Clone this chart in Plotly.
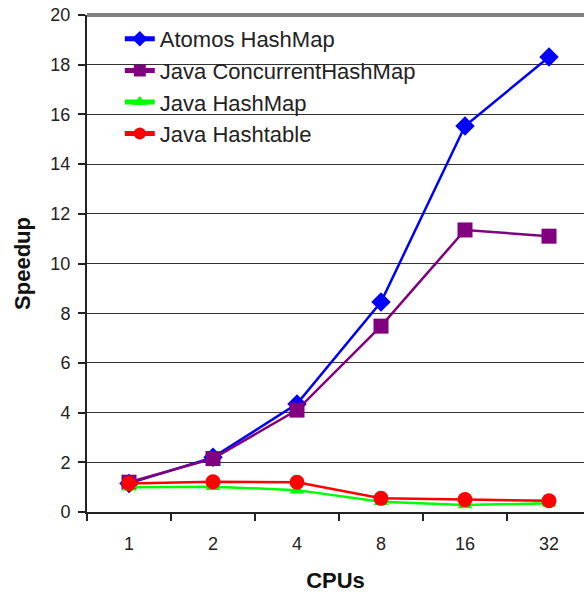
import plotly.graph_objects as go

cpus = ["1", "2", "4", "8", "16", "32"]
atomos = [1.15, 2.2, 4.35, 8.45, 15.53, 18.31]
concurrent = [1.2, 2.15, 4.1, 7.48, 11.35, 11.1]
hashmap = [1.0, 1.02, 0.88, 0.41, 0.28, 0.35]
hashtable = [1.15, 1.22, 1.2, 0.55, 0.5, 0.45]

series = [
    ("Atomos HashMap", atomos, "#0000FF", "diamond", 15),
    ("Java ConcurrentHashMap", concurrent, "#800080", "square", 15),
    ("Java HashMap", hashmap, "#00FF00", "triangle-up", 13),
    ("Java Hashtable", hashtable, "#FF0000", "circle", 15),
]

fig = go.Figure()
for name, vals, color, sym, size in series:
    fig.add_trace(go.Scatter(
        x=cpus, y=vals, name=name, mode="lines+markers",
        line=dict(color=color, width=2.5),
        marker=dict(symbol=sym, size=size, color=color),
    ))

font = "Liberation Sans, Arial, sans-serif"
fig.update_layout(
    width=584, height=595,
    margin=dict(l=87, r=0, t=15, b=83),
    paper_bgcolor="white", plot_bgcolor="white",
    font=dict(family=font, size=18, color="#222"),
    showlegend=True,
    legend=dict(x=0.066, y=0.994, xanchor="left", yanchor="top",
                bgcolor="rgba(255,255,255,0)", font=dict(size=22, color="#222"),
                tracegroupgap=0, itemsizing="constant"),
    xaxis=dict(
        type="category", range=[-0.5, 5.4167],
        showline=True, linecolor="#222", linewidth=2,
        ticks="outside", tickson="boundaries", ticklen=7, tickwidth=1.5, tickcolor="#222",
        showgrid=False, ticklabelstandoff=14,
        title=dict(text="<b>CPUs</b>", font=dict(size=22, color="#111"), standoff=20),
    ),
    yaxis=dict(
        range=[0, 20], dtick=2,
        showline=True, linecolor="#222", linewidth=2,
        ticks="outside", ticklen=7, tickwidth=1.5, tickcolor="#222",
        showgrid=True, gridcolor="#333", gridwidth=1.2, zeroline=False,
        ticklabelstandoff=4,
        title=dict(text="<b>Speedup</b>", font=dict(size=22, color="#111"), standoff=14),
    ),
    shapes=[
        dict(type="rect", xref="paper", yref="paper", x0=0.004, x1=0.78, y0=0.73, y1=0.995,
             fillcolor="white", line=dict(width=0), layer="between"),
        dict(type="line", xref="paper", yref="paper", x0=0, x1=1, y0=1, y1=1,
             line=dict(color="#808080", width=4)),
    ],
)

fig.write_html("out.html")
